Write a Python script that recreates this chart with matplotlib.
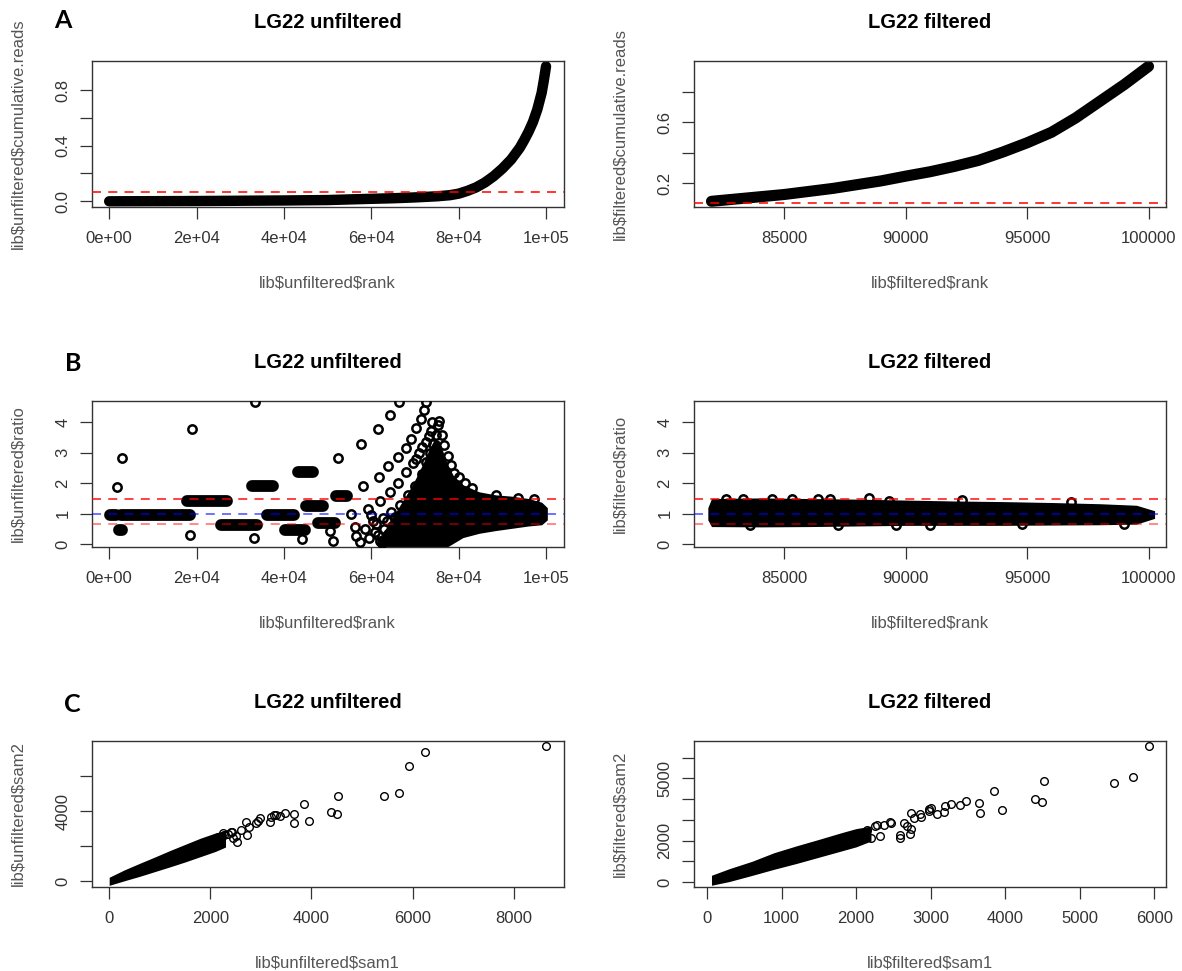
import numpy as np
import matplotlib
matplotlib.use("Agg")
import matplotlib.pyplot as plt

plt.rcParams['font.family'] = ['Liberation Sans', 'DejaVu Sans']
plt.rcParams['text.parse_math'] = False  # labels contain "$"

# ---- A: cumulative reads vs rank ----
unf_rank = [0, 10000, 20000, 30000, 40000, 50000, 60000, 65000, 70000, 75000, 78000,
            80000, 82000, 84000, 86000, 88000, 90000, 92000, 94000, 95000, 96000,
            97000, 98000, 99000, 99500, 100000]
unf_cum = [0.0, 0.001, 0.002, 0.004, 0.006, 0.009, 0.018, 0.022, 0.028, 0.036, 0.044,
           0.055, 0.075, 0.10, 0.135, 0.18, 0.235, 0.30, 0.385, 0.44, 0.50,
           0.57, 0.66, 0.78, 0.87, 0.97]
filt_rank = [82000, 83000, 84000, 85000, 86000, 87000, 88000, 89000, 90000, 91000,
             92000, 93000, 94000, 95000, 96000, 97000, 98000, 99000, 99500, 100000]
filt_cum = [0.08, 0.095, 0.11, 0.125, 0.145, 0.165, 0.19, 0.215, 0.246, 0.275,
            0.31, 0.35, 0.405, 0.466, 0.535, 0.63, 0.74, 0.85, 0.91, 0.97]
cum_cutoff = 0.07

# ---- B: ratio vs rank ----
ratio_hi, ratio_mid, ratio_lo = 1.5, 1.0, 0.667

# runs of overlapping points (start rank, end rank, ratio)
unf_band_start = [300, 2200, 2700, 17900, 25500, 32700, 36100, 40300, 43300, 45000, 47800, 51900]
unf_band_end = [1500, 3000, 18600, 27000, 33800, 37600, 42200, 44800, 46700, 49000, 51600, 54500]
unf_band_ratio = [0.95, 0.47, 0.95, 1.43, 0.64, 1.9, 0.95, 0.47, 2.37, 1.27, 0.69, 1.58]

# single points / arcs
unf_pt_rank = [1750, 3050, 18450, 19000, 33200, 33400, 44050, 50600, 51300, 52300,
               55300, 56200, 56600, 57400, 57700, 61500, 64300, 66450,
               58100, 61700, 63800, 66100, 68000, 69200, 70300, 71300, 72000, 72600,
               59200, 61900, 64200, 66100, 68000, 69500, 70200, 71000, 71700, 72500, 73100, 73700, 74000,
               60300, 60800, 62000, 62600, 63000, 64500, 65000, 66500, 68500, 70000, 71500, 72500,
               73400, 74200, 74800, 75300, 75600,
               76200, 76700, 77500, 78200, 79000, 80000, 81500, 83000, 88500, 93500, 97200,
               58500, 59500, 60000, 61000, 61500, 62500, 63500, 63800, 64800, 65500, 66000]
unf_pt_ratio = [1.87, 2.82, 0.30, 3.78, 0.22, 4.68, 0.17, 0.45, 0.12, 2.82,
                0.98, 0.55, 0.28, 0.06, 3.28, 3.77, 4.24, 4.68,
                1.92, 2.22, 2.58, 2.87, 3.17, 3.45, 3.8, 4.1, 4.4, 4.68,
                1.15, 1.42, 1.72, 2.0, 2.38, 2.65, 2.8, 2.98, 3.2, 3.37, 3.55, 3.7, 4.02,
                0.75, 0.4, 0.1, 0.85, 0.5, 1.05, 0.25, 1.3, 1.6, 1.9, 2.3, 2.7,
                3.0, 3.3, 3.6, 3.9, 4.06,
                3.6, 3.25, 2.9, 2.6, 2.35, 2.2, 2.0, 1.85, 1.6, 1.52, 1.5,
                0.5, 0.2, 0.95, 0.65, 0.3, 0.05, 0.75, 0.35, 0.6, 0.9, 0.45]

# dense region (outer edges)
unf_fun_rank = [61500, 63000, 64500, 66000, 67500, 69000, 70500, 72000, 73500, 74500, 75500,
                76500, 77500, 79000, 81000, 84700, 88500, 92000, 96000, 99000, 100300]
unf_fun_hi = [0.0, 0.45, 0.8, 1.15, 1.5, 1.85, 2.25, 2.7, 3.2, 3.45, 3.4,
              3.0, 2.6, 2.2, 1.95, 1.72, 1.62, 1.58, 1.5, 1.38, 1.2]
unf_fun_lo = [-0.08, -0.08, -0.08, -0.08, -0.08, -0.08, -0.08, -0.08, -0.08, -0.08, -0.08,
              -0.08, -0.08, 0.05, 0.22, 0.36, 0.45, 0.52, 0.6, 0.64, 0.8]

filt_fun_rank = [81850, 82000, 84000, 86000, 88000, 90000, 92000, 94000, 96000, 98000, 99500, 100250]
filt_fun_hi = [1.2, 1.50, 1.52, 1.50, 1.48, 1.45, 1.42, 1.40, 1.37, 1.33, 1.28, 1.1]
filt_fun_lo = [0.8, 0.58, 0.57, 0.58, 0.60, 0.62, 0.62, 0.62, 0.63, 0.64, 0.66, 0.85]
filt_pt_rank = [82600, 83300, 84500, 85300, 86400, 86900, 88500, 89300, 92300, 96800,
                83600, 87200, 89600, 94800, 99000, 91000]
filt_pt_ratio = [1.48, 1.50, 1.50, 1.48, 1.50, 1.49, 1.53, 1.42, 1.45, 1.39,
                 0.62, 0.62, 0.63, 0.65, 0.66, 0.64]

# ---- C: sam2 vs sam1 ----
unf_sam1_band = [0, 300, 600, 900, 1200, 1500, 1800, 2100, 2300]
unf_sam2_hi = [230, 650, 1020, 1380, 1750, 2100, 2450, 2750, 2900]
unf_sam2_lo = [-230, 30, 280, 550, 820, 1100, 1400, 1700, 1950]
unf_sam1 = [8637, 6250, 5924, 5724, 5442, 4530, 3848, 4389, 4500, 3959, 3648, 3648, 3477,
            3381, 3262, 3181, 3195, 3294, 2980, 2950, 2767, 2734, 2536, 2437, 2273, 2600,
            2700, 2900, 2350, 2450, 2150, 2250, 2200, 2400, 2500]
unf_sam2 = [7680, 7356, 6541, 5043, 4835, 4873, 4418, 3963, 3811, 3451, 3849, 3318, 3868,
            3735, 3754, 3394, 3657, 3752, 3584, 3450, 3086, 2610, 2229, 2801, 2610, 2900,
            3350, 3300, 2700, 2450, 2500, 2750, 2150, 2800, 2600]

filt_sam1_band = [60, 300, 600, 900, 1200, 1500, 1800, 2000, 2200]
filt_sam2_hi = [330, 650, 1000, 1420, 1750, 2060, 2380, 2580, 2700]
filt_sam2_lo = [-150, 30, 320, 620, 900, 1200, 1500, 1700, 1980]
filt_sam1 = [5924, 5717, 5455, 4526, 3850, 4405, 4496, 3961, 3648, 3663, 3472, 3401, 3270,
             3189, 3179, 3002, 2977, 2876, 2740, 2735, 2589, 2644, 2473, 2372, 2281, 2460,
             2326, 2594, 2683, 2773, 2862, 2974, 3086, 2728, 2150, 2250, 2200]
filt_sam2 = [6544, 5072, 4800, 4864, 4400, 4000, 3840, 3456, 3808, 3328, 3888, 3712, 3760,
             3664, 3360, 3552, 3440, 3152, 3312, 2544, 2272, 2864, 2832, 2752, 2753, 2882,
             2222, 2141, 2705, 3108, 3269, 3511, 3269, 2302, 2500, 2700, 2150]

rank_ticks = [0, 20000, 40000, 60000, 80000, 100000]
rank_labels = ['0e+00', '2e+04', '4e+04', '6e+04', '8e+04', '1e+05']
frank_ticks = [85000, 90000, 95000, 100000]
frank_labels = ['85000', '90000', '95000', '100000']


def rlim(lo, hi):
    # R style 4% padding
    pad = (hi - lo) * 0.04
    return lo - pad, hi + pad


W, H = 1182, 971
fig = plt.figure(figsize=(W / 100, H / 100), dpi=100)
cols = [(91.7, 563.5), (694, 1166)]
rows = [(61, 206.7), (401, 546.7), (741, 886.7)]


def add_box(c, r):
    x0, x1 = cols[c]
    y0, y1 = rows[r]
    return fig.add_axes([x0 / W, 1 - y1 / H, (x1 - x0) / W, (y1 - y0) / H])


def style(ax, xt, xtl, yt, ytl, xlab, ylab, title):
    ax.set_xticks(xt)
    ax.set_xticklabels(xtl)
    ax.set_yticks(yt)
    ax.set_yticklabels(ytl, rotation=90, va='center')
    ax.tick_params(direction='out', length=8.4, width=0.9, labelsize=12,
                   labelcolor='#333333', color='#333333')
    ax.tick_params(axis='x', pad=9)
    ax.tick_params(axis='y', pad=7)
    for s in ax.spines.values():
        s.set_linewidth(1.0)
        s.set_color('#333333')
    bw = ax.get_position().width * W
    bh = ax.get_position().height * H
    ax.set_xlabel(xlab, fontsize=12, color='#555555', va='center')
    ax.xaxis.set_label_coords(0.5, -76 / bh)
    ax.set_ylabel(ylab, fontsize=12, color='#555555', va='center')
    ax.yaxis.set_label_coords(-73.7 / bw, 0.5)
    ax.set_title(title, fontsize=14.5, fontweight='bold', pad=24)


def rings(ax, x, y, ms=6.0, mew=1.8):
    ax.plot(x, y, 'o', mfc='none', mec='black', ms=ms, mew=mew, zorder=3)


def ratio_lines(ax):
    ax.axhline(ratio_hi, color='red', alpha=0.8, lw=1.3, dashes=(5, 4), zorder=5)
    ax.axhline(ratio_mid, color='blue', alpha=0.6, lw=1.3, dashes=(5, 4), zorder=5)
    ax.axhline(ratio_lo, color='red', alpha=0.5, lw=1.3, dashes=(5, 4), zorder=5)


# A left
ax = add_box(0, 0)
ax.plot(unf_rank, unf_cum, color='black', lw=7.5, solid_capstyle='round', zorder=2)
ax.axhline(cum_cutoff, color='red', alpha=0.85, lw=1.3, dashes=(5, 4), zorder=5)
ax.set_xlim(rlim(min(unf_rank), max(unf_rank)))
ax.set_ylim(rlim(min(unf_cum), max(unf_cum)))
style(ax, rank_ticks, rank_labels, [0, 0.2, 0.4, 0.6, 0.8], ['0.0', '', '0.4', '', '0.8'],
      'lib$unfiltered$rank', 'lib$unfiltered$cumulative.reads', 'LG22 unfiltered')

# A right
ax = add_box(1, 0)
ax.plot(filt_rank, filt_cum, color='black', lw=8, solid_capstyle='round', zorder=2)
ax.axhline(cum_cutoff, color='red', alpha=0.85, lw=1.3, dashes=(5, 4), zorder=5)
ax.set_xlim(rlim(min(filt_rank), max(filt_rank)))
ax.set_ylim(rlim(min(filt_cum), max(filt_cum)))
style(ax, frank_ticks, frank_labels, [0.2, 0.4, 0.6, 0.8], ['0.2', '', '0.6', ''],
      'lib$filtered$rank', 'lib$filtered$cumulative.reads', 'LG22 filtered')

# B left
ax = add_box(0, 1)
for x0, x1, r in zip(unf_band_start, unf_band_end, unf_band_ratio):
    ax.plot([x0, x1], [r, r], color='black', lw=8.5, solid_capstyle='round', zorder=2)
rings(ax, unf_pt_rank, unf_pt_ratio)
ax.fill_between(unf_fun_rank, unf_fun_lo, unf_fun_hi, color='black', lw=0, zorder=2)
ratio_lines(ax)
ax.set_xlim(rlim(min(unf_rank), max(unf_rank)))
ax.set_ylim(-0.08, 4.7)
style(ax, rank_ticks, rank_labels, [0, 1, 2, 3, 4], ['0', '1', '2', '3', '4'],
      'lib$unfiltered$rank', 'lib$unfiltered$ratio', 'LG22 unfiltered')

# B right
ax = add_box(1, 1)
ax.fill_between(filt_fun_rank, filt_fun_lo, filt_fun_hi, color='black', lw=0, zorder=2)
rings(ax, filt_pt_rank, filt_pt_ratio)
ratio_lines(ax)
ax.set_xlim(rlim(min(filt_rank), max(filt_rank)))
ax.set_ylim(-0.08, 4.7)
style(ax, frank_ticks, frank_labels, [0, 1, 2, 3, 4], ['0', '1', '2', '3', '4'],
      'lib$filtered$rank', 'lib$filtered$ratio', 'LG22 filtered')

# C left
ax = add_box(0, 2)
ax.fill_between(unf_sam1_band, unf_sam2_lo, unf_sam2_hi, color='black', lw=0, zorder=2)
rings(ax, unf_sam1, unf_sam2, ms=5.5, mew=1.0)
ax.set_xlim(rlim(min(unf_sam1_band), max(unf_sam1)))
ax.set_ylim(rlim(0, max(unf_sam2)))
style(ax, [0, 2000, 4000, 6000, 8000], ['0', '2000', '4000', '6000', '8000'],
      [0, 2000, 4000, 6000], ['0', '', '4000', ''],
      'lib$unfiltered$sam1', 'lib$unfiltered$sam2', 'LG22 unfiltered')

# C right
ax = add_box(1, 2)
ax.fill_between(filt_sam1_band, filt_sam2_lo, filt_sam2_hi, color='black', lw=0, zorder=2)
rings(ax, filt_sam1, filt_sam2, ms=5.5, mew=1.0)
ax.set_xlim(rlim(min(filt_sam1_band), max(filt_sam1)))
ax.set_ylim(rlim(40, max(filt_sam2)))
style(ax, [0, 1000, 2000, 3000, 4000, 5000, 6000],
      ['0', '1000', '2000', '3000', '4000', '5000', '6000'],
      [0, 1000, 2000, 3000, 4000, 5000, 6000], ['0', '', '2000', '', '', '5000', ''],
      'lib$filtered$sam1', 'lib$filtered$sam2', 'LG22 filtered')

# panel letters
for letter, (lx, ly) in zip(['A', 'B', 'C'], [(62.6, 20.7), (72.8, 363.3), (72.8, 705)]):
    fig.text(lx / W, 1 - ly / H, letter, fontsize=18, fontweight='bold',
             family=['Lato', 'DejaVu Sans'], ha='center', va='center')

fig.savefig('out.png', dpi=100)
